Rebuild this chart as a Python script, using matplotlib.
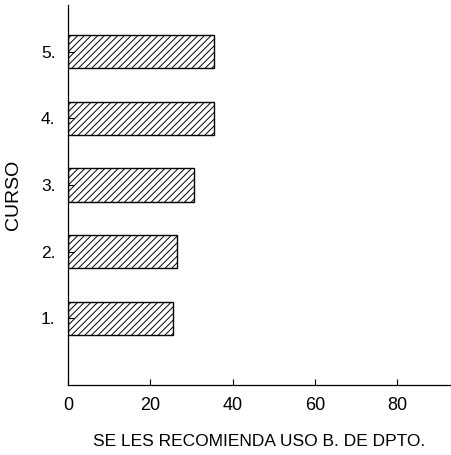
import matplotlib
matplotlib.use("Agg")
import matplotlib.pyplot as plt

plt.rcParams["font.family"] = ["Liberation Sans", "DejaVu Sans"]
plt.rcParams["hatch.linewidth"] = 0.7

# data
cursos = [1, 2, 3, 4, 5]
curso_labels = ["1.", "2.", "3.", "4.", "5."]
valores = [25.5, 26.5, 30.5, 35.5, 35.5]
x_ticks = [0, 20, 40, 60, 80]

fig = plt.figure(figsize=(4.51, 4.55), dpi=100)
ax = fig.add_axes([0.151, 0.154, 0.849, 0.835])

ax.barh(cursos, valores, height=0.5, color="white", edgecolor="black",
        linewidth=1.0, hatch="/////")

ax.set_xlim(0, 93)
ax.set_ylim(0, 5.7)
ax.set_xticks(x_ticks)
ax.set_yticks(cursos)
ax.set_yticklabels(curso_labels)
ax.tick_params(direction="in", length=4, width=0.8)
ax.tick_params(axis="x", labelsize=13, pad=9)
ax.tick_params(axis="y", labelsize=12.5, pad=9)

for side in ("top", "right"):
    ax.spines[side].set_visible(False)
for side in ("left", "bottom"):
    ax.spines[side].set_linewidth(0.9)

ax.set_xlabel("SE LES RECOMIENDA USO B. DE DPTO.", fontsize=12.5, labelpad=14)
ax.set_ylabel("CURSO", fontsize=14, labelpad=14)

fig.savefig("out.png", dpi=100)
